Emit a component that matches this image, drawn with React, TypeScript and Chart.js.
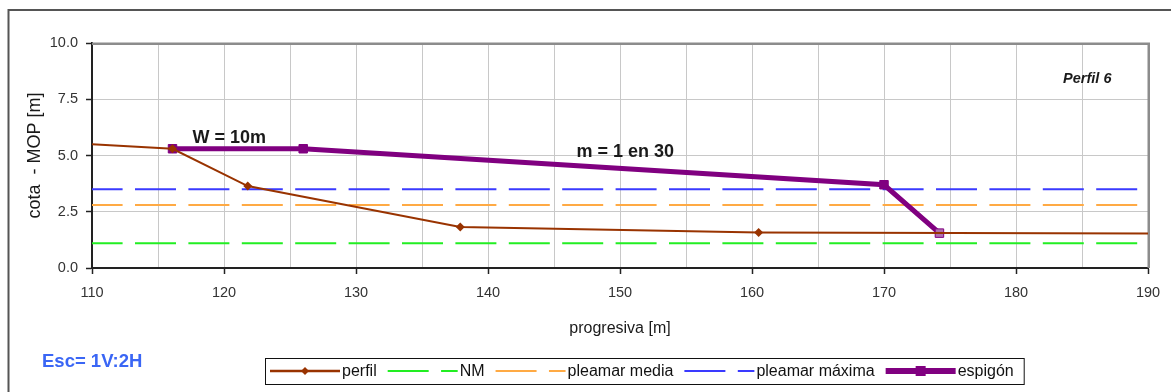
import React, { useEffect, useRef } from 'react';
import { Chart, registerables } from 'chart.js';

Chart.register(...registerables);

// ---------- data ----------
const perfilX = [110, 116.1, 121.8, 137.9, 160.5, 190];
const perfilY = [5.5, 5.3, 3.64, 1.82, 1.58, 1.53];
const perfilMarker = [0, 4.5, 4.5, 4.5, 4.5, 0];

const espigonX = [116.1, 126, 170, 174.2];
const espigonY = [5.3, 5.3, 3.7, 1.55];

const levelX = [110, 190];
const nmY = [1.1, 1.1];
const pleamarMediaY = [2.8, 2.8];
const pleamarMaximaY = [3.5, 3.5];

const seriesNames = ['perfil', 'NM', 'pleamar media', 'pleamar máxima', 'espigón'];

const xGridValues = [110, 115, 120, 125, 130, 135, 140, 145, 150, 155, 160, 165, 170, 175, 180, 185, 190];
const yGridValues = [0, 2.5, 5, 7.5, 10];

const annotTexts = ['W = 10m', 'm = 1 en 30'];
const annotX = [120.4, 150.4];
const annotY = [5.56, 4.93];

const cornerLabel = 'Perfil 6';
const cornerX = 185.4;
const cornerY = 8.22;

const scaleNote = 'Esc= 1V:2H';
const xTitle = 'progresiva [m]';
const yTitle = 'cota  - MOP [m]';

const FONT = '"Liberation Sans", Arial, Helvetica, sans-serif';

const toPts = (xs: number[], ys: number[]) => xs.map((x, i) => ({ x, y: ys[i] }));

// ---------- plugins ----------
const decorPlugin = {
  id: 'decor',
  beforeDatasetsDraw(chart: any) {
    const { ctx, chartArea } = chart;
    ctx.save();
    ctx.strokeStyle = '#8c8c8c';
    ctx.lineWidth = 2.5;
    ctx.beginPath();
    ctx.moveTo(chartArea.left, chartArea.top + 0.75);
    ctx.lineTo(chartArea.right + 0.75, chartArea.top + 0.75);
    ctx.lineTo(chartArea.right + 0.75, chartArea.bottom);
    ctx.stroke();
    ctx.restore();
  },
  afterDraw(chart: any) {
    const { ctx } = chart;
    const xs = chart.scales.x;
    const ys = chart.scales.y;
    ctx.save();
    // outer frame
    ctx.strokeStyle = '#555';
    ctx.lineWidth = 2;
    ctx.beginPath();
    ctx.moveTo(8.5, 392);
    ctx.lineTo(8.5, 10);
    ctx.lineTo(1171, 10);
    ctx.stroke();

    // annotations
    ctx.fillStyle = '#1a1a1a';
    ctx.textAlign = 'center';
    ctx.textBaseline = 'alphabetic';
    ctx.font = `bold 18px ${FONT}`;
    annotTexts.forEach((t, i) => {
      ctx.fillText(t, xs.getPixelForValue(annotX[i]), ys.getPixelForValue(annotY[i]));
    });
    ctx.font = `italic bold 14.5px ${FONT}`;
    ctx.fillText(cornerLabel, xs.getPixelForValue(cornerX), ys.getPixelForValue(cornerY));

    // scale note
    ctx.textAlign = 'left';
    ctx.fillStyle = '#3a66f5';
    ctx.font = `bold 18.5px ${FONT}`;
    ctx.fillText(scaleNote, 42, 367);

    // legend
    const ds = chart.data.datasets;
    ctx.font = `16px ${FONT}`;
    ctx.textBaseline = 'middle';
    const sw = 70;
    const cy = 371;
    let x = 270;
    ds.forEach((d: any) => {
      ctx.save();
      ctx.strokeStyle = d.borderColor;
      ctx.lineWidth = d.legendLineWidth || d.borderWidth;
      ctx.setLineDash(d.borderDash || []);
      ctx.beginPath();
      ctx.moveTo(x, cy);
      ctx.lineTo(x + sw, cy);
      ctx.stroke();
      ctx.setLineDash([]);
      const mx = x + sw / 2;
      if (d.pointStyle === 'rectRot') {
        const r = 4;
        ctx.fillStyle = d.borderColor;
        ctx.beginPath();
        ctx.moveTo(mx, cy - r);
        ctx.lineTo(mx + r, cy);
        ctx.lineTo(mx, cy + r);
        ctx.lineTo(mx - r, cy);
        ctx.closePath();
        ctx.fill();
      } else if (d.pointStyle === 'rect') {
        ctx.fillStyle = d.borderColor;
        ctx.fillRect(mx - 5, cy - 5, 10, 10);
      }
      ctx.restore();
      ctx.fillStyle = '#111';
      ctx.fillText(d.label, x + sw + 2, cy + 1);
      x += sw + 2 + ctx.measureText(d.label).width + 11;
    });
    ctx.strokeStyle = '#111';
    ctx.lineWidth = 1;
    ctx.strokeRect(265.5, 358.5, x - 265 - 1, 26);
    ctx.restore();
  },
};

export default function App() {
  const ref = useRef<HTMLCanvasElement>(null);

  useEffect(() => {
    if (!ref.current) return;
    const dashed = (label: string, ys: number[], color: string) => ({
      label,
      data: toPts(levelX, ys),
      borderColor: color,
      backgroundColor: color,
      borderWidth: 2,
      borderDash: [41, 12.4],
      borderDashOffset: 10.4,
      pointRadius: 0,
      order: 3,
    });
    const chart = new Chart(ref.current, {
      type: 'line',
      data: {
        datasets: [
          {
            label: seriesNames[0],
            data: toPts(perfilX, perfilY),
            borderColor: '#993300',
            backgroundColor: '#993300',
            borderWidth: 2,
            legendLineWidth: 2.5,
            pointStyle: 'rectRot',
            pointRadius: perfilMarker,
            pointBorderWidth: 0,
            pointBackgroundColor: '#993300',
            order: 0,
          } as any,
          dashed(seriesNames[1], nmY, '#22ee22'),
          dashed(seriesNames[2], pleamarMediaY, '#ffaa44'),
          dashed(seriesNames[3], pleamarMaximaY, '#3a3aff'),
          {
            label: seriesNames[4],
            data: toPts(espigonX, espigonY),
            borderColor: '#800080',
            backgroundColor: '#800080',
            borderWidth: 5,
            legendLineWidth: 6,
            pointStyle: 'rect',
            pointRadius: 6,
            pointBorderWidth: 1,
            pointBorderColor: '#800080',
            pointBackgroundColor: ['#800080', '#800080', '#800080', '#b070b0'],
            order: 1,
          } as any,
        ],
      },
      options: {
        responsive: false,
        animation: false,
        events: [],
        layout: { padding: { left: 0, top: 43, right: 23, bottom: 0 } },
        plugins: {
          legend: { display: false },
          tooltip: { enabled: false },
        },
        scales: {
          x: {
            type: 'linear',
            min: 110,
            max: 190,
            afterBuildTicks: (s: any) => {
              s.ticks = xGridValues.map((v) => ({ value: v }));
            },
            afterFit: (s: any) => {
              s.height = 124;
            },
            ticks: {
              autoSkip: false,
              maxRotation: 0,
              padding: 10,
              color: '#333',
              font: { family: FONT, size: 14.5 },
              callback: (v: any) => (Number(v) % 10 === 0 ? String(v) : ''),
            },
            grid: {
              color: '#c8c8c8',
              lineWidth: 1,
              tickLength: 6,
              tickWidth: 1.5,
              tickColor: (c: any) => (c.tick && c.tick.value % 10 === 0 ? '#222' : 'rgba(0,0,0,0)'),
            },
            border: { color: '#222', width: 2 },
            title: {
              display: true,
              text: xTitle,
              color: '#1a1a1a',
              font: { family: FONT, size: 16 },
              padding: { top: 0, bottom: 54 },
            },
          },
          y: {
            type: 'linear',
            min: 0,
            max: 10,
            afterBuildTicks: (s: any) => {
              s.ticks = yGridValues.map((v) => ({ value: v }));
            },
            afterFit: (s: any) => {
              s.width = 92;
            },
            ticks: {
              padding: 8,
              color: '#333',
              font: { family: FONT, size: 14.5 },
              callback: (v: any) => Number(v).toFixed(1),
            },
            grid: {
              color: '#c8c8c8',
              lineWidth: 1,
              tickLength: 6,
              tickWidth: 1.5,
              tickColor: '#222',
            },
            border: { color: '#222', width: 2 },
            title: {
              display: true,
              text: yTitle,
              color: '#1a1a1a',
              font: { family: FONT, size: 18 },
              padding: { top: 24, bottom: 0 },
            },
          },
        },
      } as any,
      plugins: [decorPlugin],
    });
    return () => chart.destroy();
  }, []);

  return (
    <div style={{ position: 'fixed', left: 0, top: 0, width: 1171, height: 392, background: '#fff' }}>
      <canvas ref={ref} width={1171} height={392} style={{ display: 'block', width: 1171, height: 392 }} />
    </div>
  );
}
